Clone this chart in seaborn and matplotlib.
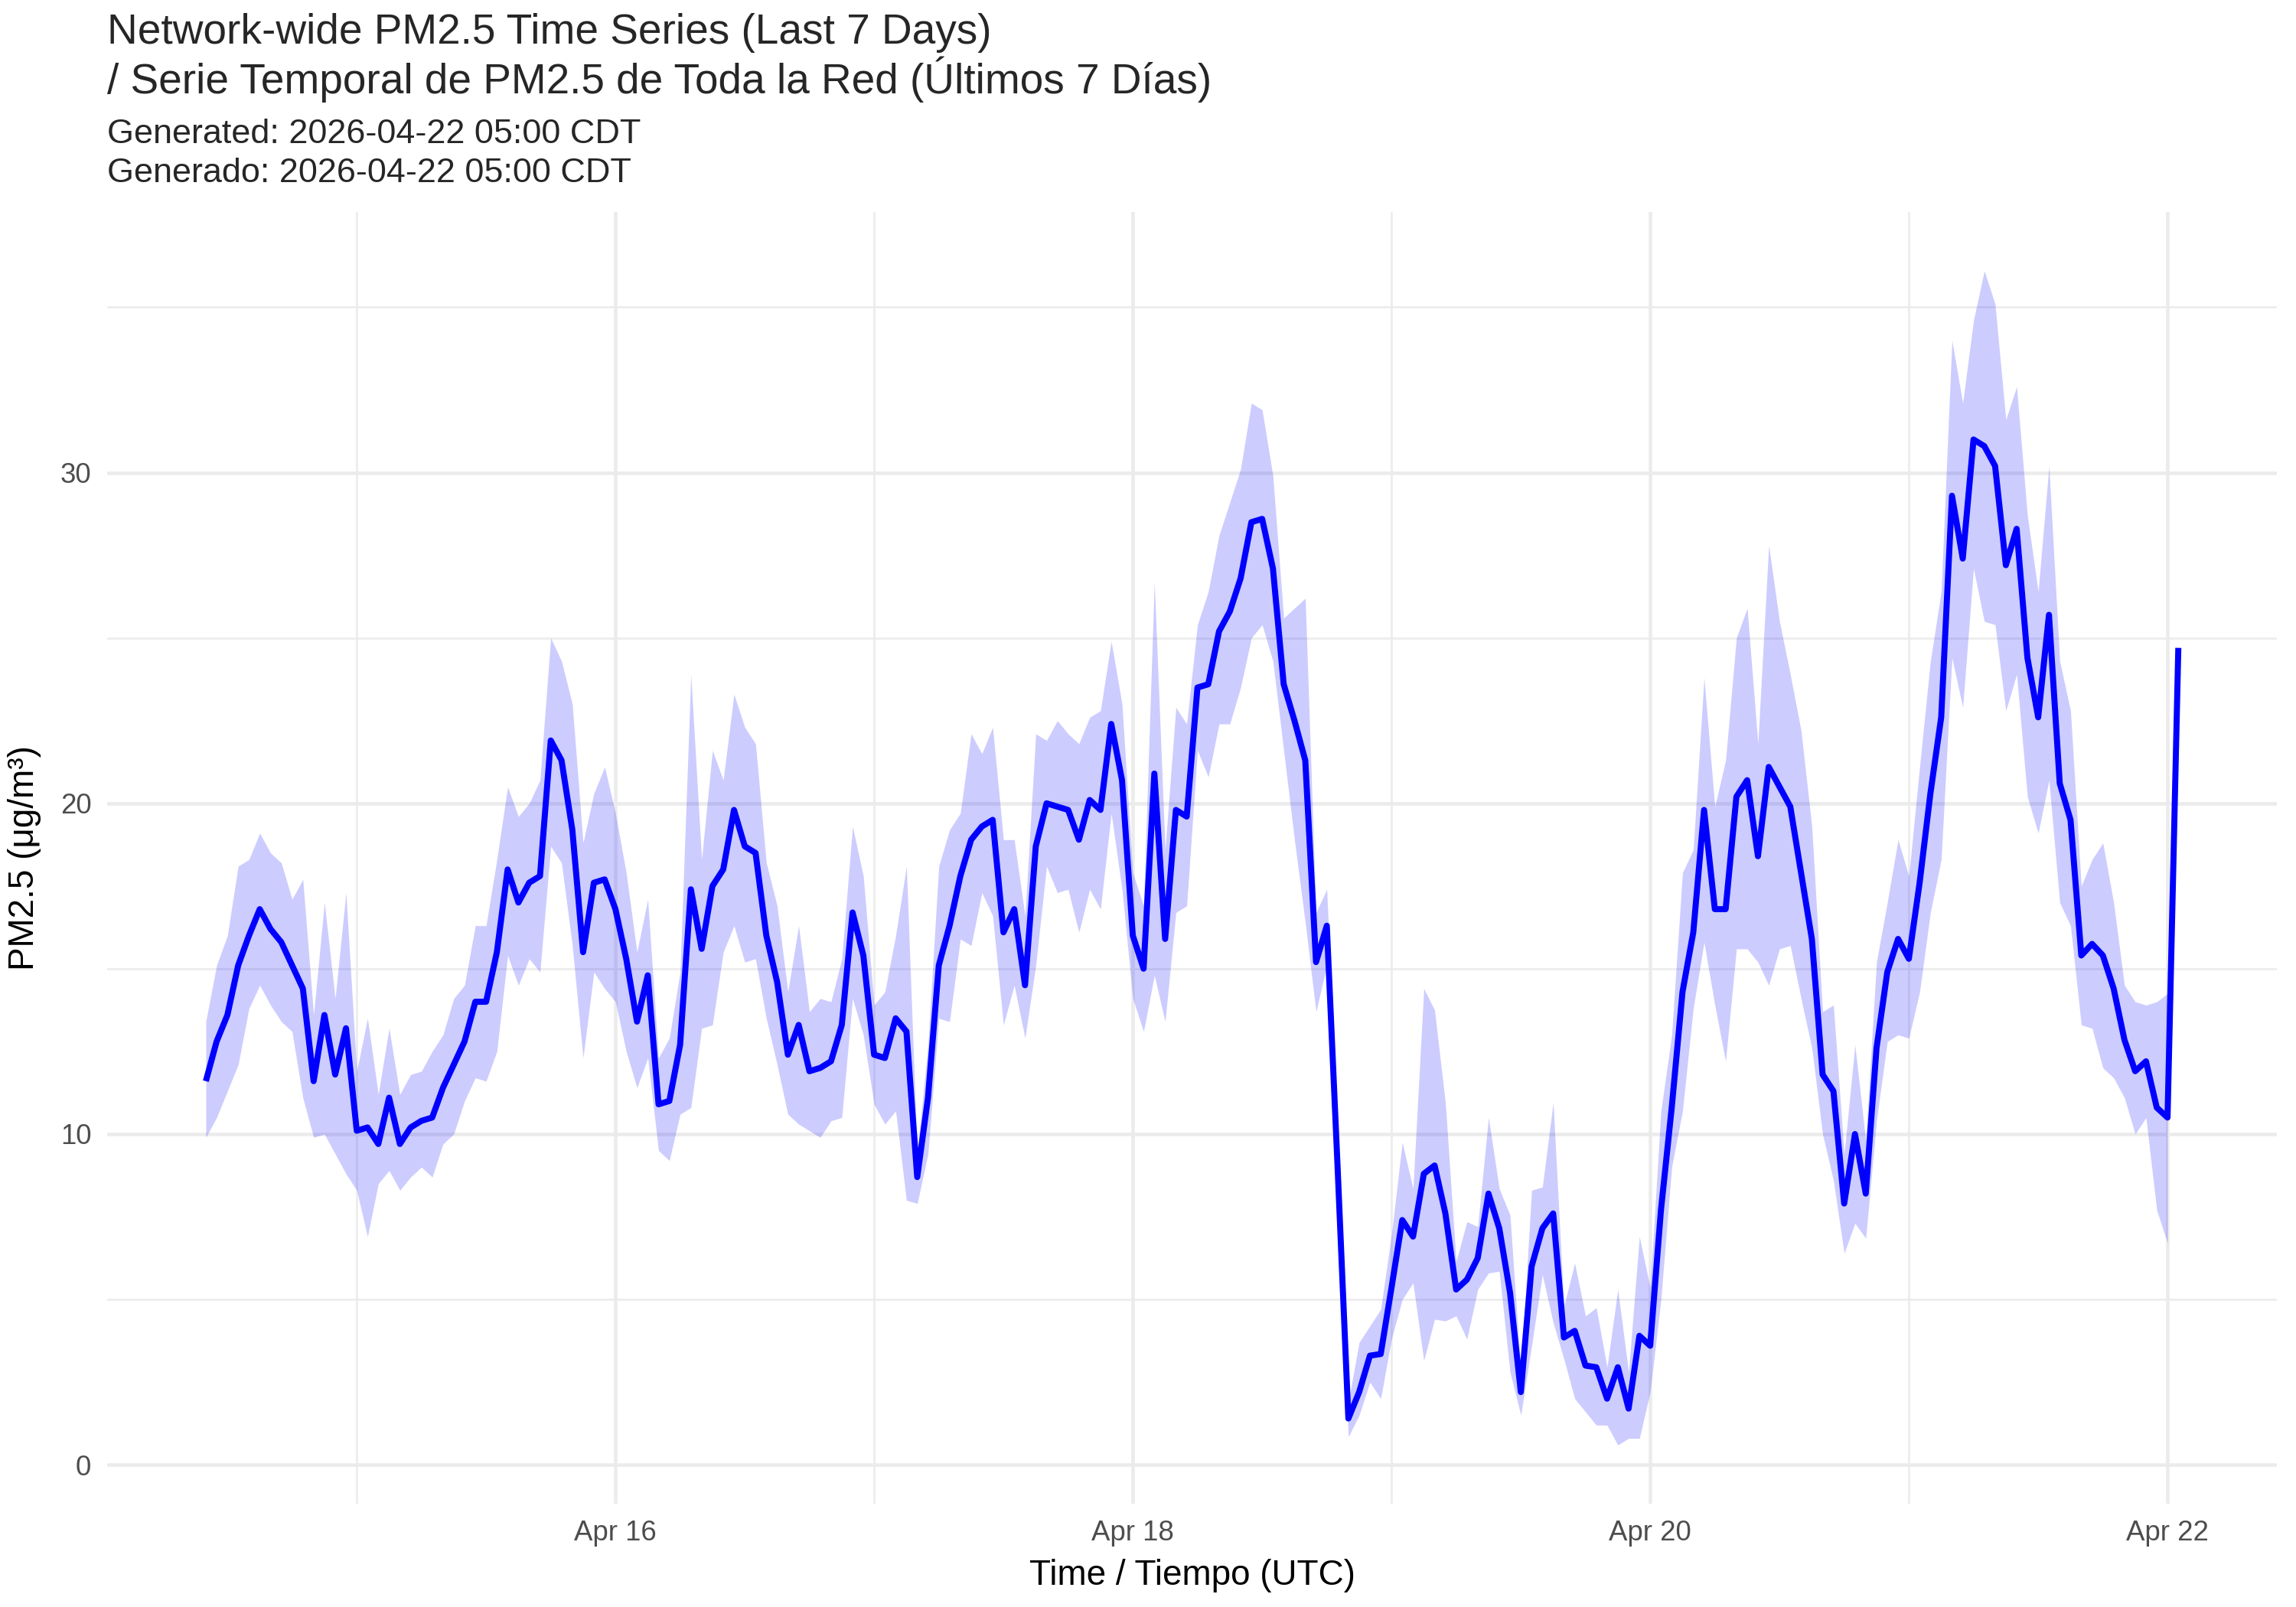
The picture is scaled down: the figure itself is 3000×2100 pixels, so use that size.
'''
Network-wide PM2.5 hourly time series with a shaded spread band.
'''
import numpy as np
import pandas as pd
import matplotlib
matplotlib.use('Agg')
import matplotlib.pyplot as plt
import matplotlib.dates as mdates
from matplotlib.ticker import MultipleLocator, FixedLocator
import seaborn as sns

# hourly values, first hour = 2026-04-14 10:00 UTC
start_time = '2026-04-14 10:00'

pm_mean = [
    11.6, 12.8, 13.6, 15.1, 16.0, 16.8, 16.2, 15.8, 15.1, 14.4,
    11.6, 13.6, 11.8, 13.2, 10.1, 10.2, 9.7, 11.1, 9.7, 10.2,
    10.4, 10.5, 11.4, 12.1, 12.8, 14.0, 14.0, 15.5, 18.0, 17.0,
    17.6, 17.8, 21.9, 21.3, 19.2, 15.5, 17.6, 17.7, 16.8, 15.3,
    13.4, 14.8, 10.9, 11.0, 12.7, 17.4, 15.6, 17.5, 18.0, 19.8,
    18.7, 18.5, 16.0, 14.6, 12.4, 13.3, 11.9, 12.0, 12.2, 13.3,
    16.7, 15.4, 12.4, 12.3, 13.5, 13.1, 8.7, 11.1, 15.1, 16.3,
    17.8, 18.9, 19.3, 19.5, 16.1, 16.8, 14.5, 18.7, 20.0, 19.9,
    19.8, 18.9, 20.1, 19.8, 22.4, 20.7, 16.0, 15.0, 20.9, 15.9,
    19.8, 19.6, 23.5, 23.6, 25.2, 25.8, 26.8, 28.5, 28.6, 27.1,
    23.6, 22.5, 21.3, 15.2, 16.3, 9.0, 1.4, 2.2, 3.3, 3.35,
    5.35, 7.4, 6.9, 8.8, 9.05, 7.6, 5.3, 5.6, 6.25, 8.2,
    7.15, 5.2, 2.2, 6.0, 7.15, 7.6, 3.85, 4.05, 3.0, 2.95,
    2.0, 2.95, 1.7, 3.9, 3.6, 7.7, 10.8, 14.3, 16.1, 19.8,
    16.8, 16.8, 20.2, 20.7, 18.4, 21.1, 20.5, 19.9, 17.9, 15.9,
    11.8, 11.3, 7.9, 10.0, 8.2, 12.6, 14.9, 15.9, 15.3, 17.6,
    20.3, 22.6, 29.3, 27.4, 31.0, 30.8, 30.2, 27.2, 28.3, 24.4,
    22.6, 25.7, 20.6, 19.5, 15.4, 15.75, 15.4, 14.4, 12.85, 11.9,
    12.2, 10.8, 10.5, 24.7,
]

pm_low = [
    9.9, 10.5, 11.3, 12.1, 13.8, 14.5, 13.9, 13.4, 13.1, 11.1,
    9.9, 10.0, 9.4, 8.8, 8.3, 6.9, 8.5, 8.9, 8.3, 8.7,
    9.0, 8.7, 9.7, 10.0, 11.0, 11.7, 11.6, 12.5, 15.4, 14.5,
    15.3, 14.9, 18.7, 18.2, 15.7, 12.3, 14.9, 14.4, 14.0, 12.5,
    11.4, 12.3, 9.5, 9.2, 10.6, 10.8, 13.2, 13.3, 15.5, 16.3,
    15.2, 15.3, 13.5, 12.1, 10.6, 10.3, 10.1, 9.9, 10.4, 10.5,
    14.1, 13.0, 10.9, 10.3, 10.7, 8.0, 7.9, 9.4, 13.5, 13.4,
    15.9, 15.7, 17.3, 16.6, 13.3, 14.5, 12.9, 15.1, 18.1, 17.3,
    17.4, 16.1, 17.4, 16.8, 19.7, 17.4, 14.1, 13.1, 14.8, 13.4,
    16.7, 16.9, 21.6, 20.8, 22.4, 22.4, 23.5, 25.0, 25.4, 24.3,
    21.6, 18.9, 16.4, 13.7, 15.1, 8.0, 0.85, 1.5, 2.5, 2.0,
    3.8, 5.0, 5.5, 3.15, 4.4, 4.35, 4.5, 3.8, 5.3, 5.8,
    5.85, 2.8, 1.5, 3.6, 5.75, 4.3, 3.2, 2.0, 1.6, 1.2,
    1.2, 0.6, 0.8, 0.8, 2.2, 5.0, 9.0, 10.7, 13.8, 15.8,
    13.9, 12.2, 15.6, 15.6, 15.2, 14.5, 15.6, 15.7, 14.1, 12.6,
    10.0, 8.6, 6.4, 7.3, 6.85, 10.4, 12.8, 13.0, 12.9, 14.3,
    16.7, 18.3, 24.4, 22.9, 27.1, 25.5, 25.4, 22.8, 23.9, 20.2,
    19.1, 20.7, 17.0, 16.3, 13.3, 13.2, 12.0, 11.7, 11.1, 10.0,
    10.5, 7.7, 6.7, np.nan,
]

pm_high = [
    13.4, 15.1, 16.0, 18.1, 18.3, 19.1, 18.5, 18.2, 17.1, 17.7,
    13.6, 17.0, 14.1, 17.3, 11.9, 13.5, 11.2, 13.2, 11.2, 11.8,
    11.9, 12.5, 13.0, 14.1, 14.5, 16.3, 16.3, 18.3, 20.5, 19.6,
    20.0, 20.7, 25.0, 24.3, 23.0, 18.8, 20.3, 21.1, 19.7, 17.9,
    15.5, 17.1, 12.3, 12.9, 14.9, 23.9, 18.3, 21.6, 20.7, 23.3,
    22.3, 21.8, 18.2, 16.9, 14.3, 16.3, 13.7, 14.1, 14.0, 15.3,
    19.3, 17.8, 13.9, 14.3, 16.0, 18.1, 9.4, 12.7, 18.1, 19.2,
    19.7, 22.1, 21.5, 22.3, 18.9, 18.9, 16.6, 22.1, 21.9, 22.5,
    22.1, 21.8, 22.6, 22.8, 24.9, 23.0, 17.9, 16.9, 26.7, 18.6,
    22.9, 22.4, 25.4, 26.4, 28.1, 29.1, 30.1, 32.1, 31.9, 29.9,
    25.6, 25.9, 26.2, 16.7, 17.4, 10.0, 1.9, 3.7, 4.2, 4.7,
    6.95, 9.75, 8.35, 14.4, 13.75, 10.95, 6.15, 7.35, 7.2, 10.5,
    8.35, 7.55, 2.8, 8.3, 8.4, 10.95, 4.8, 6.1, 4.5, 4.75,
    2.95, 5.3, 2.8, 6.9, 5.35, 10.7, 13.0, 17.9, 18.6, 23.8,
    19.9, 21.3, 25.0, 25.9, 21.8, 27.8, 25.5, 23.9, 22.2, 19.3,
    13.7, 13.9, 9.4, 12.7, 9.8, 15.2, 17.0, 18.9, 17.8, 21.1,
    24.3, 26.4, 34.0, 32.1, 34.6, 36.1, 35.1, 31.6, 32.6, 28.7,
    26.4, 30.2, 24.3, 22.8, 17.5, 18.3, 18.8, 17.0, 14.5, 14.0,
    13.9, 14.0, 14.25, np.nan,
]

title = ('Network-wide PM2.5 Time Series (Last 7 Days)\n'
         '/ Serie Temporal de PM2.5 de Toda la Red (Últimos 7 Días)')
subtitle = 'Generated: 2026-04-22 05:00 CDT\nGenerado: 2026-04-22 05:00 CDT'
x_label = 'Time / Tiempo (UTC)'
y_label = 'PM2.5 (μg/m³)'

df = pd.DataFrame({'mean': pm_mean, 'low': pm_low, 'high': pm_high})
df['time'] = pd.date_range(start_time, periods=len(df), freq='h')

sns.set_theme(style='white')
plt.rcParams['font.family'] = ['Liberation Sans', 'DejaVu Sans']

fig = plt.figure(figsize=(10, 7), dpi=300)
ax = fig.add_axes([0.0467, 0.0643, 0.945, 0.8037])

ax.fill_between(df['time'], df['low'], df['high'], color='#0000FF', alpha=0.2, linewidth=0)
sns.lineplot(data=df, x='time', y='mean', ax=ax, color='#0000FF', linewidth=1.9,
             solid_capstyle='butt', solid_joinstyle='round')

# ggplot-like 5% expansion
t0 = mdates.date2num(df['time'].iloc[0])
t1 = mdates.date2num(df['time'].iloc[-1])
ax.set_xlim(t0 - 0.05 * (t1 - t0), t1 + 0.05 * (t1 - t0))
ymin = np.nanmin(df[['mean', 'low']].values)
ymax = np.nanmax(df[['mean', 'high']].values)
ax.set_ylim(ymin - 0.05 * (ymax - ymin), ymax + 0.05 * (ymax - ymin))

ax.xaxis.set_major_locator(mdates.DayLocator(bymonthday=range(2, 32, 2)))
ax.xaxis.set_minor_locator(mdates.DayLocator())
ax.xaxis.set_major_formatter(mdates.DateFormatter('%b %d'))
ax.yaxis.set_major_locator(FixedLocator([0, 10, 20, 30]))
ax.yaxis.set_minor_locator(MultipleLocator(5))

ax.set_axisbelow(True)
ax.grid(which='major', color='#EBEBEB', linewidth=1.1)
ax.grid(which='minor', color='#EBEBEB', linewidth=0.6)
for s in ax.spines.values():
    s.set_visible(False)

ax.tick_params(which='both', length=0)
ax.tick_params(axis='x', labelsize=8.8, labelcolor='#4D4D4D', pad=5)
ax.tick_params(axis='y', labelsize=8.8, labelcolor='#4D4D4D', pad=5)

ax.set_xlabel(x_label, fontsize=11, color='black', labelpad=4)
ax.set_ylabel(y_label, fontsize=11, color='black', labelpad=6)

fig.text(0.0467, 0.992, title, fontsize=13.2, ha='left', va='top', linespacing=1.1)
fig.text(0.0467, 0.926, subtitle, fontsize=10.8, ha='left', va='top', linespacing=1.3)

fig.savefig('out.png', dpi=300, facecolor='white')
